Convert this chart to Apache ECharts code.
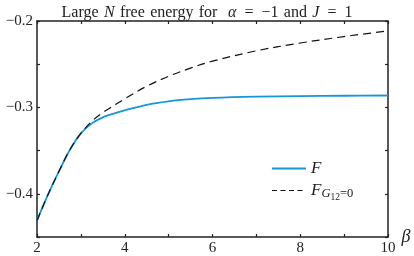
<!DOCTYPE html>
<html><head><meta charset="utf-8">
<script src="https://cdn.jsdelivr.net/npm/echarts@6/dist/echarts.min.js"></script>
<style>html,body{margin:0;padding:0;background:#fff}#c{width:414px;height:256px}</style>
</head><body><div id="c"></div>
<script>
var betaF = [2, 2.25, 2.5, 2.75, 3, 3.25, 3.5, 3.75, 4, 4.5, 5, 5.5, 6, 7, 8, 9, 10];
var valuesF = [-0.431, -0.401, -0.374, -0.349, -0.330, -0.3185, -0.3115, -0.3072, -0.3035, -0.297, -0.293, -0.2905, -0.289, -0.2876, -0.2869, -0.2865, -0.2862];
var betaG = [2, 2.25, 2.5, 2.75, 3, 3.25, 3.5, 3.75, 4, 4.5, 5, 5.5, 6, 7, 8, 9, 10];
var valuesG = [-0.431, -0.401, -0.374, -0.349, -0.330, -0.316, -0.306, -0.298, -0.290, -0.2755, -0.264, -0.2545, -0.2465, -0.2345, -0.2255, -0.218, -0.2115];
var xTickLabels = ['2', '4', '6', '8', '10'];
var yTickLabels = ['\u22120.2', '\u22120.3', '\u22120.4'];
var seriesNames = ['F', 'FG'];

var serif = 'Liberation Serif';
function pairs(xs, ys) { return xs.map(function (x, i) { return [x, ys[i]]; }); }

var chart = echarts.init(document.getElementById('c'), null, { renderer: 'canvas' });
var axisLine = { show: true, lineStyle: { color: '#222', width: 1.5 } };
var tick = { show: true, inside: true, length: 3, lineStyle: { color: '#222', width: 1.2 } };
var sp = '\u2004', en = '\u2002';
chart.setOption({
  animation: false,
  title: {
    text: 'Large' + sp + '{i|N}' + sp + 'free' + sp + 'energy' + sp + 'for' + sp + sp + '{i|\u03b1}' + en + '=' + en + '\u22121' + sp + 'and' + sp + '{i|J}' + en + '=' + en + '1',
    left: 'center', top: 0,
    textStyle: {
      fontFamily: serif, fontSize: 16, fontWeight: 'normal', color: '#222',
      rich: { i: { fontFamily: serif, fontStyle: 'italic', fontSize: 16, color: '#222' } }
    }
  },
  grid: { left: 37, right: 26, top: 21, bottom: 18, containLabel: false },
  legend: {
    data: [{ name: seriesNames[0] }, { name: seriesNames[1], lineStyle: { type: [5, 3.5], width: 1.2, color: '#111' } }],
    orient: 'vertical',
    left: 266, top: 155,
    itemWidth: 34, itemHeight: 14, itemGap: 5,
    itemStyle: { opacity: 0 },
    formatter: function (n) { return n === 'F' ? '{i|F}' : '{i|F}{s|G}{t|12}{u|=0}'; },
    textStyle: {
      fontFamily: serif, color: '#222', fontSize: 16,
      rich: {
        i: { fontFamily: serif, fontStyle: 'italic', fontSize: 17, color: '#222', lineHeight: 20 },
        s: { fontFamily: serif, fontStyle: 'italic', fontSize: 12.5, color: '#222', lineHeight: 20, verticalAlign: 'bottom' },
        t: { fontFamily: serif, fontSize: 9.5, color: '#222', lineHeight: 20, verticalAlign: 'bottom', padding: [0, 0, -2, 0] },
        u: { fontFamily: serif, fontSize: 12.5, color: '#222', lineHeight: 20, verticalAlign: 'bottom' }
      }
    }
  },
  xAxis: [{
    type: 'value', min: 2, max: 10, interval: 1,
    axisLine: axisLine, axisTick: tick, splitLine: { show: false },
    axisLabel: {
      fontFamily: serif, fontSize: 15, color: '#222', margin: 4,
      formatter: function (v) { var s = String(Math.round(v)); return xTickLabels.indexOf(s) >= 0 ? s : ''; }
    },
    name: '\u03b2', nameLocation: 'end', nameGap: 10,
    nameTextStyle: { fontFamily: serif, fontStyle: 'italic', fontSize: 18, color: '#222', padding: [0, 0, 16, 0] }
  }, {
    type: 'value', position: 'top', min: 2, max: 10, interval: 1,
    axisLine: axisLine, axisTick: tick, axisLabel: { show: false }, splitLine: { show: false }
  }],
  yAxis: [{
    type: 'value', min: -0.45, max: -0.2, interval: 0.05,
    axisLine: axisLine, axisTick: tick, splitLine: { show: false },
    axisLabel: {
      fontFamily: serif, fontSize: 15, color: '#222', margin: 4,
      formatter: function (v) {
        var k = Math.round(v * 100);
        var s = '\u22120.' + String(Math.abs(k) / 10);
        return (k % 10 === 0 && yTickLabels.indexOf(s) >= 0) ? s : '';
      }
    }
  }, {
    type: 'value', position: 'right', min: -0.45, max: -0.2, interval: 0.05,
    axisLine: axisLine, axisTick: tick, axisLabel: { show: false }, splitLine: { show: false }
  }],
  series: [{
    name: 'F', type: 'line', data: pairs(betaF, valuesF), showSymbol: false, symbol: 'none',
    smooth: 0.35,
    lineStyle: { color: '#1796d8', width: 1.8 }, itemStyle: { color: '#1796d8' }
  }, {
    name: 'FG', type: 'line', data: pairs(betaG, valuesG), showSymbol: false, symbol: 'none',
    smooth: 0.35,
    lineStyle: { color: '#111', width: 1.2, type: [8, 5] }, itemStyle: { color: '#111' }
  }]
});
</script></body></html>
